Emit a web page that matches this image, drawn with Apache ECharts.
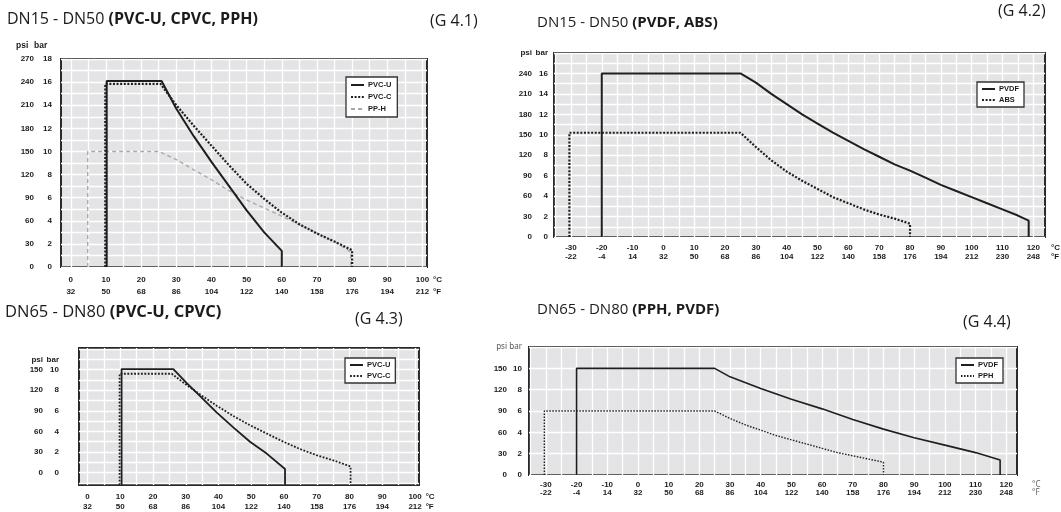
<!DOCTYPE html>
<html><head><meta charset="utf-8">
<script src="https://cdn.jsdelivr.net/npm/echarts@6/dist/echarts.min.js"></script>
<style>html,body{margin:0;padding:0;background:#fff}#c{width:1061px;height:512px}</style>
</head><body><div id="c"></div>
<script>
// ---------- tick labels ----------
const tempC_A = [0,10,20,30,40,50,60,70,80,90,100];
const tempF_A = [32,50,68,86,104,122,140,158,176,194,212];
const tempC_B = [-30,-20,-10,0,10,20,30,40,50,60,70,80,90,100,110,120];
const tempF_B = [-22,-4,14,32,50,68,86,104,122,140,158,176,194,212,230,248];
const bar1 = [0,2,4,6,8,10,12,14,16,18];
const psi1 = [0,30,60,90,120,150,180,210,240,270];
const bar2 = [0,2,4,6,8,10,12,14,16,18];
const psi2 = [0,30,60,90,120,150,180,210,240,'psi'];
const bar2Lbl = [0,2,4,6,8,10,12,14,16,'bar'];
const bar3 = [0,2,4,6,8,10,11];
const psi3 = [0,30,60,90,120,150,'psi'];
const bar3Lbl = [0,2,4,6,8,10,'bar'];
const bar4 = [0,2,4,6,8,10,12];
const psi4 = [0,30,60,90,120,150,'psi'];
const bar4Lbl = [0,2,4,6,8,10,'bar'];

// ---------- series values (temperature °C, pressure bar) ----------
// G 4.1
const g1_pvcu_T = [10.2,10.2,25.8,30,35,40,45,50,55,60,60];
const g1_pvcu_P = [0,16.1,16.1,13.7,11.3,9.1,7.0,4.9,3.0,1.4,0];
const g1_pvcc_T = [9.8,9.8,25.5,30,35,40,45,50,55,60,65,70,75,80,80];
const g1_pvcc_P = [0,15.85,15.85,14.0,12.2,10.5,8.8,7.2,5.9,4.7,3.7,2.9,2.2,1.45,0];
const g1_pph_T  = [4.8,4.8,25,30,35,40,45,50,55,60,65,70,75,79.6,79.6];
const g1_pph_P  = [0,10,10,9.3,8.4,7.55,6.6,5.8,5.1,4.4,3.65,2.95,2.2,1.3,0];
// G 4.2
const g2_pvdf_T = [-20,-20,25,30,35,40,45,50,55,60,65,70,75,80,85,90,95,100,105,110,115,118.5,118.5];
const g2_pvdf_P = [0,16,16,15.1,14.0,13.0,12.0,11.1,10.2,9.4,8.6,7.85,7.1,6.5,5.8,5.1,4.5,3.9,3.3,2.7,2.1,1.6,0];
const g2_abs_T  = [-30.5,-30.5,25,30,35,40,45,50,55,60,65,70,75,80,80];
const g2_abs_P  = [0,10.2,10.2,8.8,7.5,6.4,5.5,4.7,3.9,3.3,2.7,2.2,1.8,1.3,0];
// G 4.3
const g3_pvcu_T = [10.4,10.4,26.2,30.3,34.3,39.4,44.5,49.6,54.7,60.3,60.3];
const g3_pvcu_P = [-1.2,10.05,10.05,8.7,7.45,5.85,4.4,3.0,1.85,0.35,-1.2];
const g3_pvcc_T = [9.8,9.8,25.7,30.3,34.3,39.4,44.5,49.6,54.7,59.8,64.8,69.9,75,80.3,80.3];
const g3_pvcc_P = [-1.2,9.6,9.6,8.5,7.6,6.5,5.5,4.6,3.8,3.0,2.3,1.7,1.2,0.6,-1.2];
// G 4.4
const g4_pvdf_T = [-20,-20,25,30,40,50,60,70,80,90,100,110,118,118];
const g4_pvdf_P = [0,10,10,9.2,8.1,7.1,6.2,5.2,4.3,3.5,2.8,2.1,1.4,0];
const g4_pph_T  = [-30.5,-30.5,25,30,35,40,45,50,55,60,65,70,75,80,80];
const g4_pph_P  = [0,6,6,5.3,4.7,4.2,3.7,3.3,2.9,2.5,2.1,1.8,1.5,1.2,0];

// ---------- helpers ----------
const pairs = (T,P) => T.map((t,i)=>[t,P[i]]);
const range = (a,b,s) => { const r=[]; for(let v=a; v<=b+1e-9; v+=s) r.push(v); return r; };
const LBL = {fontFamily:'Liberation Sans', fontWeight:'bold', fontSize:8, color:'#1b1b1b'};
const BG = '#e4e4e6';

function xAxis(gi, min, max, C, F, margin, lh, nameGap, unitStyle){
  return {
    type:'value', gridIndex:gi, min:min, max:max,
    axisLine:{show:false, onZero:false}, axisTick:{show:false, customValues: range(Math.ceil(min/5)*5, max, 5)},
    splitLine:{show:true, lineStyle:{color:'#ffffff', width:1.3}},
    axisLabel:Object.assign({}, LBL, {customValues:C, margin:margin, lineHeight:lh,
      formatter:(v)=>{const i=C.indexOf(v); return i<0?'':C[i]+'\n'+F[i];}}),
    name:'°C\n°F', nameLocation:'end', nameGap:nameGap,
    nameTextStyle:Object.assign({}, LBL, {lineHeight:lh, verticalAlign:'top', align:'left', padding:[margin,0,0,0]}, unitStyle||{})
  };
}
function yAxes(gi, min, max, step, lblVals, barL, psiL, barMargin, psiMargin){
  const base = {type:'value', gridIndex:gi, min:min, max:max, position:'left',
    axisLine:{show:false, onZero:false}};
  return [
    Object.assign({}, base, {
      axisTick:{show:false, customValues: range(Math.ceil(min/step)*step, max, step)},
      splitLine:{show:true, lineStyle:{color:'#ffffff', width:1.3}},
      axisLabel:Object.assign({}, LBL, {customValues:lblVals, margin:barMargin, align:'right',
        formatter:(v)=>{const i=lblVals.indexOf(v); return i<0?'':String(barL[i]);}})
    }),
    Object.assign({}, base, {
      axisTick:{show:false}, splitLine:{show:false},
      axisLabel:Object.assign({}, LBL, {customValues:lblVals, margin:psiMargin, align:'right',
        formatter:(v)=>{const i=lblVals.indexOf(v); return i<0?'':String(psiL[i]);}})
    })
  ];
}
function line(name, gi, yi, T, P, style){
  return {type:'line', name:name, xAxisIndex:gi, yAxisIndex:yi, data:pairs(T,P),
    symbol:'none', silent:true, lineStyle:style, itemStyle:{color:style.color, opacity:0}, z:3};
}
function legend(names, left, top, gap, pad){
  return {data:names, left:left, top:top, orient:'vertical', itemWidth:13, itemHeight:8, itemGap:gap,
    padding:pad, backgroundColor:'#ffffff', borderColor:'#333', borderWidth:1.3, borderRadius:0,
    selectedMode:false, formatter:(n)=>n.split('#')[0], itemStyle:{opacity:0},
    textStyle:Object.assign({}, LBL, {fontSize:7.5, padding:[0,0,0,-1]})};
}
const ttl = (txt, left, top, fs) => ({text:txt, left:left, top:top, padding:0,
  textStyle:{fontFamily:'Open Sans', fontSize:fs, fontWeight:'normal', color:'#1b1b1b',
    rich:{n:{fontFamily:'Open Sans', fontSize:fs, color:'#1b1b1b'},
          b:{fontFamily:'Open Sans', fontSize:fs, fontWeight:'bold', color:'#1b1b1b'}}}});
const hdr = (txt, left, top) => ({text:txt, left:left, top:top, padding:0,
  textStyle:Object.assign({}, LBL, {fontSize:8.5})});

const SOLID = {color:'#1e1e1e', width:2, type:'solid'};
const DOT   = {color:'#1e1e1e', width:2.2, type:[2,1.6]};
const DASH  = {color:'#a9a9ab', width:1.4, type:[4,3]};

const y1 = yAxes(0, 0, 18, 1, bar1, bar1, psi1, 9, 27);
const y2 = yAxes(1, 0, 18, 1, bar2, bar2Lbl, psi2, 6, 22);
const y3 = yAxes(2, -1.2, 12.1, 1, bar3, bar3Lbl, psi3, 20, 36);
const y4 = yAxes(3, 0, 12, 2, bar4, bar4Lbl, psi4, 7, 22);
const lightHdr = {fontFamily:'Noto Sans', fontWeight:'normal', color:'#555', fontSize:8};
y4[0].axisLabel.formatter = (v)=>{const i=bar4.indexOf(v); if(i<0) return ''; return i===bar4.length-1?'{l|bar}':String(bar4Lbl[i]);};
y4[1].axisLabel.formatter = (v)=>{const i=bar4.indexOf(v); if(i<0) return ''; return i===bar4.length-1?'{l|psi}':String(psi4[i]);};
y4[0].axisLabel.rich = {l:lightHdr}; y4[1].axisLabel.rich = {l:lightHdr};

const gridStyle = {show:true, backgroundColor:BG, borderColor:'#2a2a2a', borderWidth:2};

const option = {
  animation:false,
  backgroundColor:'#ffffff',
  title:[
    ttl('{n|DN15 - DN50 }{b|(PVC-U, CPVC, PPH)}', 7, 11, 16),
    ttl('{n|(G 4.1)}', 430, 13, 16),
    ttl('{n|DN15 - DN50 }{b|(PVDF, ABS)}', 537, 15, 15),
    ttl('{n|(G 4.2)}', 998, 3, 16),
    ttl('{n|DN65 - DN80 }{b|(PVC-U, CPVC)}', 5, 304, 16.5),
    ttl('{n|(G 4.3)}', 355, 311, 16),
    ttl('{n|DN65 - DN80 }{b|(PPH, PVDF)}', 537, 302, 15),
    ttl('{n|(G 4.4)}', 963, 314, 16),
    hdr('psi', 16, 41),
    hdr('bar', 34, 41)
  ],
  grid:[
    Object.assign({left:61, top:59, width:366, height:208}, gridStyle),
    Object.assign({left:554, top:53, width:493, height:184}, gridStyle),
    Object.assign({left:79, top:348, width:340, height:139}, gridStyle),
    Object.assign({left:529, top:347, width:488, height:128}, gridStyle)
  ],
  xAxis:[
    xAxis(0, -2.8, 101.3, tempC_A, tempF_A, 7, 12, 6),
    xAxis(1, -35.5, 123.8, tempC_B, tempF_B, 6, 9, 6),
    xAxis(2, -2.6, 101.2, tempC_A, tempF_A, 7, 10, 4),
    xAxis(3, -35.5, 123.5, tempC_B, tempF_B, 6, 8, 15, {fontFamily:'Noto Sans', fontWeight:'normal', color:'#666'})
  ],
  yAxis:[y1[0],y1[1],y2[0],y2[1],y3[0],y3[1],y4[0],y4[1]],
  legend:[
    legend(['PVC-U','PVC-C','PP-H'], 346, 77, 4, [4,6,4,4]),
    legend(['PVDF','ABS'], 977, 82, 3, [3,5,3,4]),
    legend(['PVC-U#3','PVC-C#3'], 345, 358, 3, [3,5,3,4]),
    legend(['PVDF#4','PPH#4'], 956, 358, 3, [3,5,3,4])
  ],
  series:[
    line('PP-H',0,0,g1_pph_T,g1_pph_P,DASH),
    line('PVC-U',0,0,g1_pvcu_T,g1_pvcu_P,SOLID),
    line('PVC-C',0,0,g1_pvcc_T,g1_pvcc_P,DOT),
    line('PVDF',1,2,g2_pvdf_T,g2_pvdf_P,SOLID),
    line('ABS',1,2,g2_abs_T,g2_abs_P,DOT),
    line('PVC-U#3',2,4,g3_pvcu_T,g3_pvcu_P,{color:'#1e1e1e', width:1.8}),
    line('PVC-C#3',2,4,g3_pvcc_T,g3_pvcc_P,{color:'#1e1e1e', width:1.8, type:[1.8,1.6]}),
    line('PVDF#4',3,6,g4_pvdf_T,g4_pvdf_P,{color:'#1e1e1e', width:1.6}),
    line('PPH#4',3,6,g4_pph_T,g4_pph_P,{color:'#1e1e1e', width:1.4, type:[1.5,1.5]})
  ]
};
const chart = echarts.init(document.getElementById('c'), null, {renderer:'canvas'});
chart.setOption(option);
</script></body></html>
